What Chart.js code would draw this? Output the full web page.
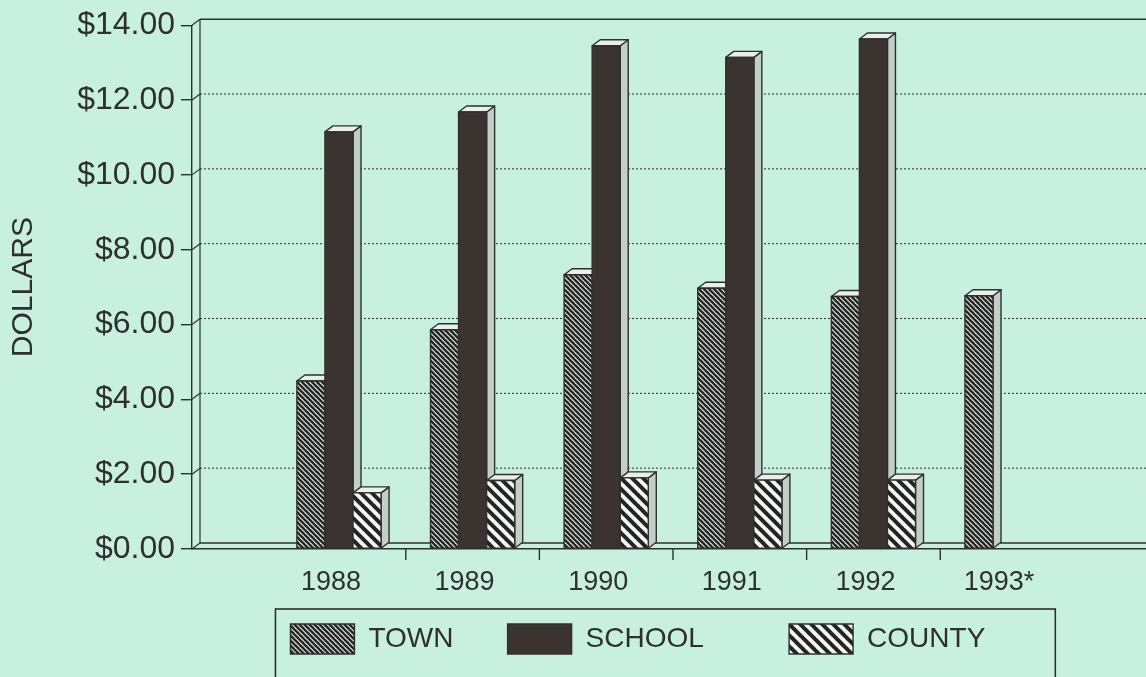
<!DOCTYPE html>
<html lang="en">
<head>
<meta charset="UTF-8">
<title>Tax by year</title>
<script src="https://cdn.jsdelivr.net/npm/chart.js"></script>
<style>
  html, body { margin: 0; padding: 0; background: #c8f0de; }
</style>
</head>
<body>
<canvas id="chart" width="1146" height="677"></canvas>
<script>
const years = ['1988', '1989', '1990', '1991', '1992', '1993*'];
const town = [4.49, 5.86, 7.33, 6.97, 6.75, 6.77];
const school = [11.15, 11.68, 13.45, 13.14, 13.63, null];
const county = [1.50, 1.83, 1.90, 1.84, 1.84, null];
const seriesNames = ['TOWN', 'SCHOOL', 'COUNTY'];
const legendSpaces = [4, 8, 8]; // widen legend slots like the original

const bg = '#c8f0de';
const ink = '#2f2f2f';
const DX = 8, DY = 6; // depth of the 3d look

function hatch(size, lineW, back, fore) {
  const c = document.createElement('canvas');
  c.width = size; c.height = size;
  const g = c.getContext('2d');
  g.fillStyle = back;
  g.fillRect(0, 0, size, size);
  g.strokeStyle = fore;
  g.lineWidth = lineW;
  for (let k = -1; k <= 1; k++) {
    g.beginPath();
    g.moveTo(k * size - 1, -1);
    g.lineTo(k * size + size + 1, size + 1);
    g.stroke();
  }
  return g.createPattern(c, 'repeat');
}

const townFill = hatch(5, 2.4, '#dde7e1', '#262626');
const schoolFill = '#3b3330';
const countyFill = hatch(11, 4, '#f3f7f4', '#242424');

const toPoints = arr => arr.map((v, i) => ({ x: i, y: v }));

const bars3d = {
  id: 'bars3d',
  beforeDraw(chart) {
    const ctx = chart.ctx;
    ctx.save();
    ctx.fillStyle = bg;
    ctx.fillRect(0, 0, chart.width, chart.height);
    ctx.restore();
  },
  beforeDatasetsDraw(chart) {
    const ctx = chart.ctx;
    const a = chart.chartArea;
    const ys = chart.scales.y;
    ctx.save();
    ctx.strokeStyle = ink;
    ctx.lineWidth = 1.2;
    // back wall
    ctx.beginPath();
    ctx.moveTo(a.left + DX, a.top - DY);
    ctx.lineTo(a.left + DX, a.bottom - DY);
    ctx.stroke();
    // top edge and floor back edge
    ctx.lineWidth = 1.6;
    ctx.beginPath();
    ctx.moveTo(a.left + DX, a.top - DY);
    ctx.lineTo(a.right, a.top - DY);
    ctx.moveTo(a.left + DX, a.bottom - DY);
    ctx.lineTo(a.right, a.bottom - DY);
    ctx.stroke();
    // dotted grid on the back wall + small diagonals
    ys.ticks.forEach(t => {
      const y = ys.getPixelForValue(t.value);
      ctx.setLineDash([]);
      ctx.lineWidth = 1.2;
      ctx.beginPath();
      ctx.moveTo(a.left, y);
      ctx.lineTo(a.left + DX, y - DY);
      ctx.stroke();
      if (t.value > ys.min && t.value < ys.max) {
        ctx.setLineDash([2, 2]);
        ctx.lineWidth = 1;
        ctx.beginPath();
        ctx.moveTo(a.left + DX, y - DY);
        ctx.lineTo(a.right, y - DY);
        ctx.stroke();
      }
    });
    ctx.restore();
  },
  afterDatasetsDraw(chart) {
    const ctx = chart.ctx;
    const n = years.length;
    ctx.save();
    ctx.strokeStyle = ink;
    ctx.lineWidth = 1.4;
    ctx.lineJoin = 'round';
    for (let j = 0; j < n; j++) {
      chart.data.datasets.forEach((ds, i) => {
        const el = chart.getDatasetMeta(i).data[j];
        if (!el || ds.data[j].y == null) return;
        const { x, y, base, width } = el.getProps(['x', 'y', 'base', 'width'], true);
        const l = x - width / 2, r = x + width / 2;
        // side face
        ctx.fillStyle = '#c1cfc8';
        ctx.beginPath();
        ctx.moveTo(r, y);
        ctx.lineTo(r + DX, y - DY);
        ctx.lineTo(r + DX, base - DY);
        ctx.lineTo(r, base);
        ctx.closePath();
        ctx.fill();
        ctx.stroke();
        // top face
        ctx.fillStyle = '#e9efeb';
        ctx.beginPath();
        ctx.moveTo(l, y);
        ctx.lineTo(l + DX, y - DY);
        ctx.lineTo(r + DX, y - DY);
        ctx.lineTo(r, y);
        ctx.closePath();
        ctx.fill();
        ctx.stroke();
        // front face
        ctx.fillStyle = ds.backgroundColor;
        ctx.fillRect(l, y, width, base - y);
        ctx.strokeRect(l, y, width, base - y);
      });
    }
    ctx.restore();
  },
  afterDraw(chart) {
    const ctx = chart.ctx;
    const a = chart.chartArea;
    const xs = chart.scales.x;
    ctx.save();
    ctx.strokeStyle = ink;
    ctx.lineWidth = 1.4;
    // x tick marks between the years
    for (let i = 0; i < years.length - 1; i++) {
      const px = xs.getPixelForValue(i + 0.5);
      ctx.beginPath();
      ctx.moveTo(px, a.bottom);
      ctx.lineTo(px, a.bottom + 11);
      ctx.stroke();
    }
    // frame round the legend
    const lg = chart.legend;
    const hb = lg.legendHitBoxes;
    if (hb && hb.length) {
      const last = hb[hb.length - 1];
      const lab = lg.options.labels;
      ctx.font = lab.font.size + 'px ' + lab.font.family;
      const lastText = seriesNames[seriesNames.length - 1];
      const l = hb[0].left - 15;
      const r = last.left + lab.boxWidth + lab.font.size / 2 + ctx.measureText(lastText).width + 70;
      ctx.lineWidth = 1.6;
      ctx.strokeRect(l, lg.top + 8, r - l, chart.height);
    }
    ctx.restore();
  }
};

new Chart(document.getElementById('chart'), {
  type: 'bar',
  data: {
    datasets: [
      { label: seriesNames[0], data: toPoints(town), backgroundColor: townFill, borderColor: ink, borderWidth: 1.4 },
      { label: seriesNames[1], data: toPoints(school), backgroundColor: schoolFill, borderColor: ink, borderWidth: 1.4 },
      { label: seriesNames[2], data: toPoints(county), backgroundColor: countyFill, borderColor: ink, borderWidth: 1.4 }
    ]
  },
  options: {
    responsive: false,
    animation: false,
    categoryPercentage: 0.63,
    barPercentage: 1,
    layout: { padding: { top: 21, right: 0, bottom: 13, left: 0 } },
    scales: {
      x: {
        type: 'linear',
        offset: false,
        min: -1.1,
        max: 6.04,
        afterBuildTicks: scale => { scale.ticks = years.map((c, i) => ({ value: i })); },
        afterFit: scale => { scale.height = 52; },
        grid: { display: false, offset: false },
        border: { display: true, color: ink, width: 1.6 },
        ticks: {
          autoSkip: false,
          maxRotation: 0,
          padding: 9,
          labelOffset: -8,
          color: ink,
          font: { family: 'Liberation Sans', size: 27 },
          callback: v => years[v]
        }
      },
      y: {
        min: 0,
        max: 14,
        afterFit: scale => { scale.width = 192; },
        grid: { drawOnChartArea: false, tickLength: 11, color: ink, lineWidth: 1.4 },
        border: { display: true, color: ink, width: 1.4 },
        ticks: {
          stepSize: 2,
          padding: 6,
          color: ink,
          font: { family: 'Liberation Sans', size: 32 },
          callback: v => '$' + v.toFixed(2)
        },
        title: {
          display: true,
          text: 'DOLLARS',
          color: ink,
          padding: { top: 6, bottom: 0 },
          font: { family: 'Liberation Sans', size: 30 }
        }
      }
    },
    plugins: {
      legend: {
        position: 'bottom',
        fullSize: false,
        labels: {
          boxWidth: 64,
          boxHeight: 30,
          padding: 23,
          color: ink,
          font: { family: 'Liberation Sans', size: 28 },
          generateLabels: chart => Chart.defaults.plugins.legend.labels.generateLabels(chart)
            .map((item, i) => Object.assign(item, { text: item.text + ' '.repeat(legendSpaces[i]) }))
        }
      },
      tooltip: { enabled: false }
    }
  },
  plugins: [bars3d]
});
</script>
</body>
</html>
